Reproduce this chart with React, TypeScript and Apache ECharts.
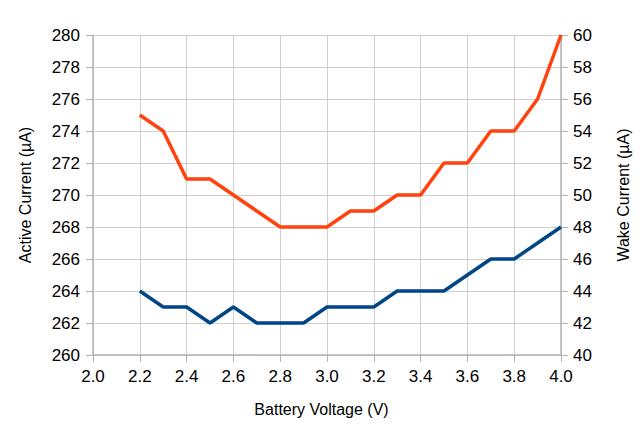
import React, { useEffect, useRef } from "react";
import * as echarts from "echarts";

const batteryVoltage = [2.2, 2.3, 2.4, 2.5, 2.6, 2.7, 2.8, 2.9, 3.0, 3.1, 3.2, 3.3, 3.4, 3.5, 3.6, 3.7, 3.8, 3.9, 4.0];
const activeCurrent = [264, 263, 263, 262, 263, 262, 262, 262, 263, 263, 263, 264, 264, 264, 265, 266, 266, 267, 268];
const wakeCurrent = [55, 54, 51, 51, 50, 49, 48, 48, 48, 49, 49, 50, 50, 52, 52, 54, 54, 56, 60];

const xTitle = "Battery Voltage (V)";
const yLeftTitle = "Active Current (µA)";
const yRightTitle = "Wake Current (µA)";

const FONT = "'Liberation Sans', Arial, sans-serif";

export default function App() {
  const ref = useRef<HTMLDivElement>(null);
  useEffect(() => {
    document.body.style.margin = "0";
    if (!ref.current) return;
    const chart = echarts.init(ref.current, undefined, { renderer: "svg" });
    const axisLine = { show: true, lineStyle: { color: "#b3b3b3", width: 1.5 } };
    const axisTick = { show: true, length: 7, inside: false, lineStyle: { color: "#b3b3b3", width: 1 } };
    const splitLine = { show: true, lineStyle: { color: "#d0d0d0", width: 1 } };
    const labelStyle = { color: "#000", fontFamily: FONT, fontSize: 17 };
    const nameStyle = { color: "#000", fontFamily: FONT, fontSize: 16 };
    chart.setOption({
      animation: false,
      backgroundColor: "#fff",
      grid: { left: 93, right: 81, top: 35, bottom: 84, containLabel: false },
      xAxis: {
        type: "value",
        min: 2,
        max: 4,
        interval: 0.2,
        name: xTitle,
        nameLocation: "middle",
        nameGap: 46,
        nameTextStyle: { ...nameStyle, padding: [0, 11, 0, 0] },
        axisLine,
        axisTick,
        splitLine,
        axisLabel: { ...labelStyle, margin: 13, formatter: (v: number) => v.toFixed(1) },
      },
      yAxis: [
        {
          type: "value",
          min: 260,
          max: 280,
          interval: 2,
          name: yLeftTitle,
          nameLocation: "middle",
          nameGap: 60,
          nameTextStyle: nameStyle,
          axisLine,
          axisTick,
          splitLine,
          axisLabel: { ...labelStyle, margin: 13 },
        },
        {
          type: "value",
          min: 40,
          max: 60,
          interval: 2,
          position: "right",
          name: yRightTitle,
          nameLocation: "middle",
          nameGap: 54,
          nameTextStyle: nameStyle,
          axisLine,
          axisTick,
          splitLine: { show: false },
          axisLabel: { ...labelStyle, margin: 12 },
        },
      ],
      series: [
        {
          name: yLeftTitle,
          type: "line",
          yAxisIndex: 0,
          showSymbol: false,
          symbol: "none",
          lineStyle: { color: "#004586", width: 3.5 },
          itemStyle: { color: "#004586" },
          data: batteryVoltage.map((x, i) => [x, activeCurrent[i]]),
        },
        {
          name: yRightTitle,
          type: "line",
          yAxisIndex: 1,
          showSymbol: false,
          symbol: "none",
          lineStyle: { color: "#ff420e", width: 3.5 },
          itemStyle: { color: "#ff420e" },
          data: batteryVoltage.map((x, i) => [x, wakeCurrent[i]]),
        },
      ],
    });
    return () => chart.dispose();
  }, []);
  return <div ref={ref} style={{ width: 642, height: 439 }} />;
}
